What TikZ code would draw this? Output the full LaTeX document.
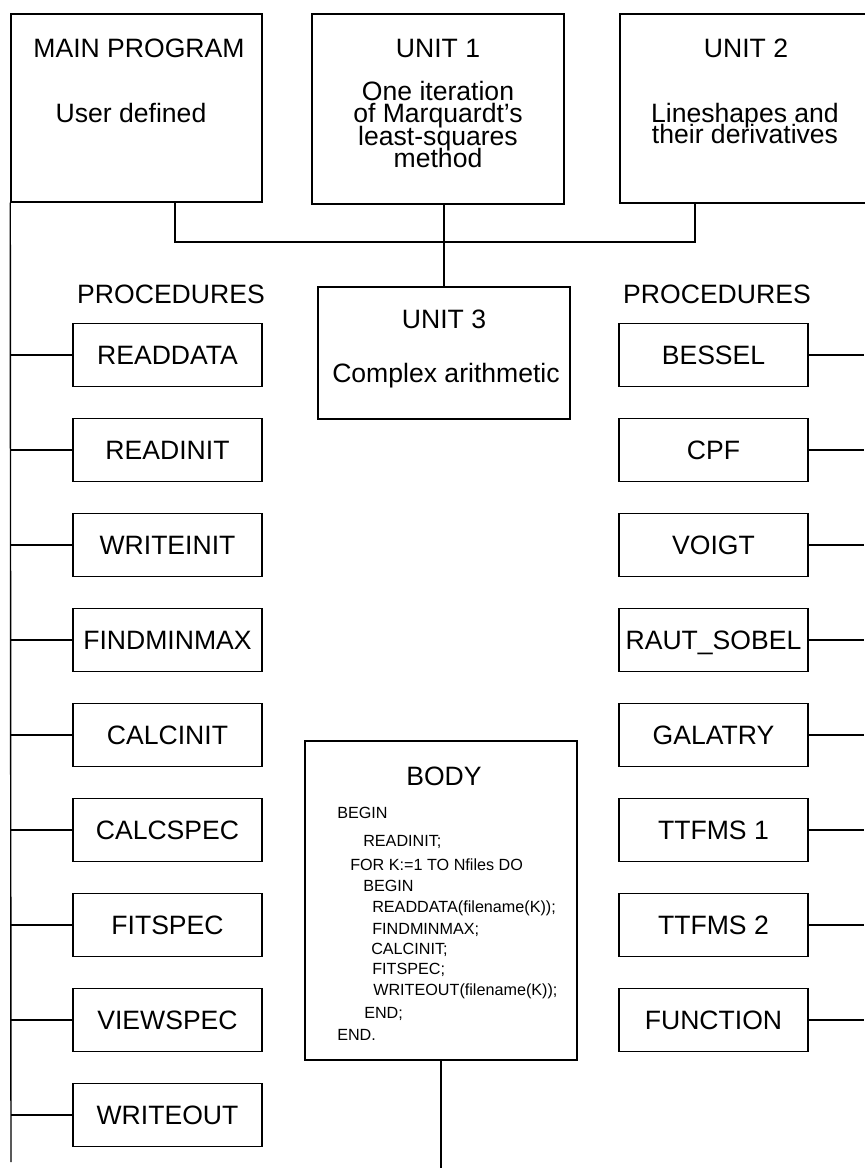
\documentclass[tikz,border=0pt]{standalone}
\usepackage{fontspec}
\setmainfont{Liberation Sans}

\newcommand\bigfont{\fontsize{18.9}{22}\selectfont}
\newcommand\codefont{\fontsize{11.5}{15}\selectfont}

\tikzset{
  box/.style={draw, line width=1pt, inner sep=0pt},
  procbox/.style={box, minimum width=4.725cm, minimum height=1.575cm,
    text height=13.5pt, text depth=0pt, font=\bigfont},
  bigtext/.style={anchor=base, inner sep=0pt, font=\bigfont},
  linetext/.style={bigtext, text height=12pt, text depth=2pt},
  codeline/.style={anchor=base west, inner sep=0pt, font=\codefont},
  wire/.style={line width=1pt},
}

\begin{document}
\begin{tikzpicture}[x=0.025cm, y=-0.025cm]
\useasboundingbox (0,0) rectangle (864,1173);

% units
\node[box, minimum width=6.275cm, minimum height=4.7cm] (mainprog) at (136.5,108) {};
\node[box, minimum width=6.3cm, minimum height=4.75cm] (unit1) at (438,109) {};
\node[box, minimum width=6.3cm, minimum height=4.725cm] (unit2) at (746,108.5) {};
\node[box, minimum width=6.3cm, minimum height=3.3cm] (unit3) at (444,353) {};
\node[box, minimum width=6.8cm, minimum height=7.975cm] (body) at (441,900.5) {};

\node[bigtext] (mptitle) at (139,57) {MAIN PROGRAM};
\node[bigtext] (mpnote) at (131,122.5) {User defined};
\node[bigtext] (u1title) at (438,57) {UNIT 1};
\foreach \txt [count=\i] in {One iteration, of Marquardt{\char39}s, least-squares, method}
  \node[linetext] (u1line\i) at (438,77.5+22.5*\i) {\txt};
\node[bigtext] (u2title) at (746,57) {UNIT 2};
\node[linetext] (u2line1) at (745,122) {Lineshapes and};
\node[linetext] (u2line2) at (745,143.5) {their derivatives};
\node[bigtext] (u3title) at (444,328) {UNIT 3};
\node[bigtext] (u3note) at (446,382) {Complex arithmetic};

% procedures
\node[bigtext] (lproc) at (171,303) {PROCEDURES};
\node[bigtext] (rproc) at (717,303) {PROCEDURES};
\foreach \name [count=\i from 0] in {READDATA, READINIT, WRITEINIT, FINDMINMAX,
    CALCINIT, CALCSPEC, FITSPEC, VIEWSPEC, WRITEOUT}
  \node[procbox] (left\i) at (167.5,355+95*\i) {\name};
\foreach \name [count=\i from 0] in {BESSEL, CPF, VOIGT, RAUT\_SOBEL,
    GALATRY, TTFMS 1, TTFMS 2, FUNCTION}
  \node[procbox] (right\i) at (713.5,355+95*\i) {\name};

% body
\node[bigtext] (bodytitle) at (444,785) {BODY};
\foreach \txt/\xx/\yy [count=\i] in {{BEGIN}/337/818, {READINIT;}/363/846.5,
    {FOR K:=1 TO Nfiles DO}/350/870.5, {BEGIN}/363/891.5,
    {READDATA(filename(K));}/372/912.5, {FINDMINMAX;}/372/934,
    {CALCINIT;}/371/954, {FITSPEC;}/372/974, {WRITEOUT(filename(K));}/373/995.5,
    {END;}/364/1018, {END.}/337/1040.5}
  \node[codeline] (code\i) at (\xx,\yy) {\txt};

% connections
\coordinate (leftend) at (11,1162);
\coordinate (rightedge) at (864,355);
\coordinate (bodyend) at (438,1168);
\coordinate (bus) at (0,242);
\coordinate (mpout) at ([xshift=0.9625cm]mainprog.south);
\coordinate (u2in) at ([xshift=-1.275cm]unit2.south);
\draw[wire] (mainprog.south west) -- (leftend);
\foreach \i in {0,...,8}
  \draw[wire] (left\i.west) -- (left\i.west -| leftend);
\foreach \i in {0,...,7}
  \draw[wire] (right\i.east) -- (right\i.east -| rightedge);
\draw[wire] (mpout) |- (bus -| u2in) -- (u2in);
\draw[wire] (unit3.north) -- (unit3.north |- unit1.south);
\draw[wire] (body.south) -- (body.south |- bodyend);

\end{tikzpicture}
\end{document}
